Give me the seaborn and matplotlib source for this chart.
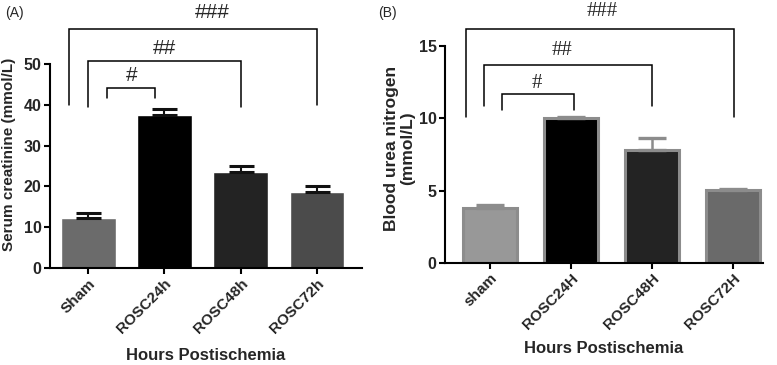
import numpy as np
import pandas as pd
import matplotlib
matplotlib.use("Agg")
import matplotlib.pyplot as plt
import seaborn as sns

# panel A: serum creatinine
groups_a = ["Sham", "ROSC24h", "ROSC48h", "ROSC72h"]
creat_mean = [12.2, 37.5, 23.5, 18.6]
creat_sem = [1.2, 1.5, 1.5, 1.5]
colors_a = ["#6b6b6b", "#000000", "#232323", "#4b4b4b"]

# panel B: blood urea nitrogen
groups_b = ["sham", "ROSC24H", "ROSC48H", "ROSC72H"]
bun_mean = [3.8, 10.0, 7.8, 5.05]
bun_sem = [0.22, 0.1, 0.85, 0.05]
colors_b = ["#989898", "#000000", "#232323", "#6a6a6a"]

sns.set_theme(style="ticks")
plt.rcParams["font.family"] = ["Liberation Sans", "DejaVu Sans"]

fig = plt.figure(figsize=(7.77, 3.65), dpi=100)
ax1 = fig.add_axes([0.0644, 0.2658, 0.4015, 0.7266])
ax2 = fig.add_axes([0.5727, 0.2795, 0.4093, 0.7134])

df_a = pd.DataFrame({"group": groups_a, "value": creat_mean})
df_b = pd.DataFrame({"group": groups_b, "value": bun_mean})

sns.barplot(data=df_a, x="group", y="value", hue="group", palette=colors_a,
            width=0.72, legend=False, ax=ax1, saturation=1)
sns.barplot(data=df_b, x="group", y="value", hue="group", palette=colors_b,
            width=0.66, legend=False, ax=ax2, saturation=1,
            edgecolor="#8c8c8c", linewidth=2.2)

x = np.arange(4)
ax1.errorbar(x, creat_mean, yerr=[np.zeros(4), creat_sem], fmt="none",
             ecolor="#111111", elinewidth=1.5, capsize=9, capthick=2.2, zorder=1)
ax2.errorbar(x, bun_mean, yerr=[np.zeros(4), bun_sem], fmt="none",
             ecolor="#8c8c8c", elinewidth=1.8, capsize=10, capthick=2.4, zorder=1)


def bracket(ax, x0, x1, ytop, ybot, label, ty, tx, family):
    ax.plot([x0, x0, x1, x1], [ybot, ytop, ytop, ybot], color="black",
            lw=1.1, clip_on=False, solid_joinstyle="miter")
    ax.text(tx, ty, label, ha="center", va="center", fontsize=15,
            family=family, clip_on=False)


bracket(ax1, -0.25, 3.0, 58.6, 40.0, "###", 62.7, 1.63, "Liberation Sans")
bracket(ax1, 0.0, 2.0, 50.7, 39.5, "##", 53.9, 1.0, "Liberation Sans")
bracket(ax1, 0.25, 0.88, 44.1, 41.7, "#", 47.2, 0.57, "Liberation Sans")

bracket(ax2, -0.30, 3.01, 16.2, 10.1, "###", 17.35, 1.38, "Liberation Serif")
bracket(ax2, -0.07, 2.0, 13.7, 10.85, "##", 14.7, 0.89, "Liberation Serif")
bracket(ax2, 0.15, 1.04, 11.7, 10.6, "#", 12.4, 0.58, "Liberation Serif")

ax1.set_xlim(-0.5, 3.59)
ax1.set_ylim(0, 65)
ax1.set_yticks([0, 10, 20, 30, 40, 50])
ax1.spines["left"].set_bounds(0, 50)
ax2.set_xlim(-0.556, 3.37)
ax2.set_ylim(0, 18)
ax2.set_yticks([0, 5, 10, 15])
ax2.spines["left"].set_bounds(0, 15)

for ax, labels in [(ax1, groups_a), (ax2, groups_b)]:
    sns.despine(ax=ax)
    for s in ["left", "bottom"]:
        ax.spines[s].set_linewidth(1.5)
        ax.spines[s].set_color("black")
    ax.tick_params(axis="both", length=4, width=1.5, color="black", pad=2)
    ax.tick_params(axis="y", labelsize=11.5)
    ax.set_xticks(range(4))
    ax.set_xticklabels(labels, rotation=45, ha="right", rotation_mode="anchor",
                       fontweight="bold", fontsize=11)
    for t in ax.get_yticklabels():
        t.set_fontweight("bold")
    ax.set_xlabel("Hours Postischemia", fontsize=12, fontweight="bold")
    ax.xaxis.set_label_coords(0.5, -0.3)

ax1.set_ylabel("Serum creatinine (mmol/L)", fontsize=11, fontweight="bold")
ax1.yaxis.set_label_coords(-0.108, 0.43)
ax2.set_ylabel("Blood urea nitrogen\n(mmol/L)", fontsize=12.5, fontweight="bold",
               linespacing=1.05)
ax2.yaxis.set_label_coords(-0.095, 0.44)

fig.text(0.006, 0.965, "(A)", fontsize=10, ha="left", va="center")
fig.text(0.487, 0.965, "(B)", fontsize=10, ha="left", va="center")

fig.savefig("out.png", dpi=100)
